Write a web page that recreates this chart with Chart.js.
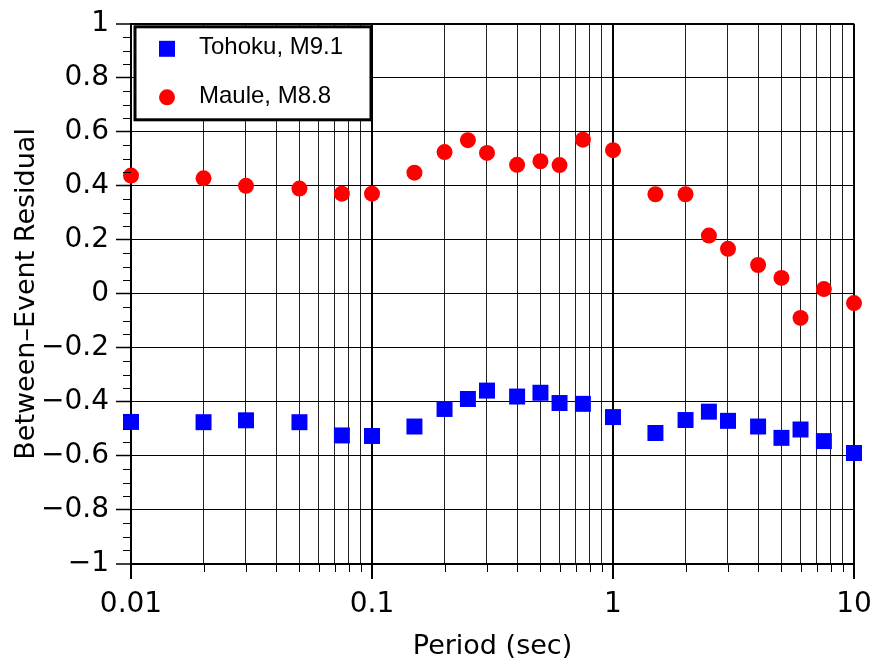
<!DOCTYPE html>
<html>
<head>
<meta charset="utf-8">
<script src="https://cdn.jsdelivr.net/npm/chart.js@4/dist/chart.umd.min.js"></script>
<style>
  html, body { margin: 0; padding: 0; background: #fff; }
  #wrap { width: 877px; height: 664px; position: relative; }
</style>
</head>
<body>
<div id="wrap"><canvas id="myChart"></canvas></div>
<script>
const periods = [0.01, 0.02, 0.03, 0.05, 0.075, 0.1, 0.15, 0.2, 0.25, 0.3, 0.4, 0.5,
  0.6, 0.75, 1, 1.5, 2, 2.5, 3, 4, 5, 6, 7.5, 10];
const tohoku = [-0.474, -0.475, -0.468, -0.475, -0.524, -0.526, -0.491, -0.426, -0.389,
  -0.358, -0.380, -0.366, -0.404, -0.407, -0.456, -0.515, -0.467, -0.436, -0.470,
  -0.491, -0.533, -0.502, -0.545, -0.589];
const maule = [0.438, 0.428, 0.400, 0.390, 0.371, 0.371, 0.449, 0.525, 0.569, 0.522,
  0.478, 0.491, 0.477, 0.571, 0.532, 0.369, 0.369, 0.216, 0.167, 0.107, 0.059,
  -0.089, 0.018, -0.034];

const xDecades = [0.01, 0.1, 1, 10];
const xDecadeLabels = ["0.01", "0.1", "1", "10"];
const yTickValues = [-1, -0.8, -0.6, -0.4, -0.2, 0, 0.2, 0.4, 0.6, 0.8, 1];
const yTickLabels = ["\u22121", "\u22120.8", "\u22120.6", "\u22120.4", "\u22120.2", "0",
  "0.2", "0.4", "0.6", "0.8", "1"];
const seriesNames = ["Tohoku, M9.1", "Maule, M8.8"];

const tickFont = { family: "'DejaVu Sans', sans-serif", size: 28 };
const titleFont = { family: "'DejaVu Sans', sans-serif", size: 27 };

const isDecade = (v) => xDecades.some((d) => Math.abs(v - d) < d * 1e-6);

// 1..9 at each decade, for the log grid
const logGridValues = () => {
  const vals = [];
  for (let i = 0; i < xDecades.length - 1; i++) {
    for (let m = 1; m < 10; m++) vals.push(Number((xDecades[i] * m).toPrecision(3)));
  }
  vals.push(xDecades[xDecades.length - 1]);
  return vals;
};

// short tick marks between the labelled ones, and the legend box
const extrasPlugin = {
  id: "extras",
  afterDraw(chart) {
    const { ctx, chartArea, scales } = chart;
    const x = scales.x, y = scales.y;
    ctx.save();
    ctx.strokeStyle = "#000";
    ctx.lineWidth = 1;
    ctx.beginPath();
    for (let v = -1; v <= 1.0001; v += 0.05) {
      const r = Math.round(v * 100) / 100;
      if (Math.abs(r * 5 - Math.round(r * 5)) < 1e-6) continue;
      const py = Math.round(y.getPixelForValue(r)) + 0.5;
      ctx.moveTo(chartArea.left - 8, py);
      ctx.lineTo(chartArea.left, py);
    }
    logGridValues().forEach((v) => {
      if (isDecade(v)) return;
      const px = Math.round(x.getPixelForValue(v)) + 0.5;
      ctx.moveTo(px, chartArea.bottom);
      ctx.lineTo(px, chartArea.bottom + 8);
    });
    ctx.stroke();

    // legend
    const bx = chartArea.left + 4, by = chartArea.top + 3;
    const bw = 236, bh = 93;
    ctx.fillStyle = "#fff";
    ctx.fillRect(bx, by, bw, bh);
    ctx.lineWidth = 3;
    ctx.strokeStyle = "#000";
    ctx.strokeRect(bx, by, bw, bh);
    ctx.font = "24px 'Liberation Sans', Arial, sans-serif";
    ctx.textBaseline = "middle";
    ctx.textAlign = "left";
    chart.data.datasets.forEach((ds, i) => {
      const cy = by + 22 + i * 48.5;
      ctx.fillStyle = ds.backgroundColor;
      Chart.helpers.drawPoint(ctx, {
        pointStyle: ds.pointStyle,
        radius: ds.pointRadius,
        rotation: 0,
        borderWidth: 0,
      }, bx + 32, cy);
      ctx.fillStyle = "#000";
      ctx.fillText(seriesNames[i], bx + 64, cy - 1);
    });
    ctx.restore();
  },
};

new Chart("myChart", {
  type: "scatter",
  data: {
    datasets: [
      {
        label: seriesNames[0],
        data: periods.map((p, i) => ({ x: p, y: tohoku[i] })),
        pointStyle: "rect",
        pointRadius: 11.3,
        pointHoverRadius: 11.3,
        backgroundColor: "#0000ff",
        borderWidth: 0,
        clip: false,
      },
      {
        label: seriesNames[1],
        data: periods.map((p, i) => ({ x: p, y: maule[i] })),
        pointStyle: "circle",
        pointRadius: 8,
        pointHoverRadius: 8,
        backgroundColor: "#ff0000",
        borderWidth: 0,
        clip: false,
      },
    ],
  },
  options: {
    responsive: true,
    maintainAspectRatio: false,
    animation: false,
    layout: { padding: { left: 0, right: 23, top: 20, bottom: 0 } },
    plugins: {
      legend: { display: false },
      tooltip: { enabled: false },
    },
    scales: {
      x: {
        type: "logarithmic",
        min: 0.01,
        max: 10,
        afterBuildTicks: (scale) => {
          scale.ticks = logGridValues().map((v) => ({ value: v }));
        },
        afterFit: (scale) => {
          scale.height = 100;
          scale.paddingLeft = 0;
          scale.paddingRight = 0;
        },
        ticks: {
          autoSkip: false,
          maxRotation: 0,
          padding: 9,
          color: "#000",
          font: tickFont,
          callback: (v) => {
            const i = xDecades.findIndex((d) => Math.abs(v - d) < d * 1e-6);
            return i >= 0 ? xDecadeLabels[i] : "";
          },
        },
        grid: {
          color: (c) => (c.tick && isDecade(c.tick.value) ? "#000" : "#222"),
          lineWidth: (c) => (c.tick && isDecade(c.tick.value) ? 2 : 1),
          tickLength: 15,
          tickColor: (c) => (c.tick && isDecade(c.tick.value) ? "#000" : "rgba(0,0,0,0)"),
          tickWidth: 2,
        },
        border: { color: "#000", width: 2 },
        title: {
          display: true,
          text: "Period (sec)",
          color: "#000",
          font: titleFont,
          padding: { top: 0, bottom: 1 },
        },
      },
      y: {
        min: -1,
        max: 1,
        afterBuildTicks: (scale) => {
          scale.ticks = yTickValues.map((v) => ({ value: v }));
        },
        afterFit: (scale) => {
          scale.width = 131;
        },
        ticks: {
          padding: 7,
          color: "#000",
          font: tickFont,
          callback: (v) => {
            const i = yTickValues.findIndex((t) => Math.abs(v - t) < 1e-6);
            return i >= 0 ? yTickLabels[i] : "";
          },
        },
        grid: {
          color: "#000",
          lineWidth: (c) => (c.tick && Math.abs(c.tick.value) === 1 ? 2 : 1),
          tickLength: 15,
          tickColor: "#000",
          tickWidth: 1.5,
        },
        border: { color: "#000", width: 2 },
        title: {
          display: true,
          text: "Between\u2013Event Residual",
          color: "#000",
          font: titleFont,
          padding: { top: 11, bottom: 0 },
        },
      },
    },
  },
  plugins: [extrasPlugin],
});
</script>
</body>
</html>
